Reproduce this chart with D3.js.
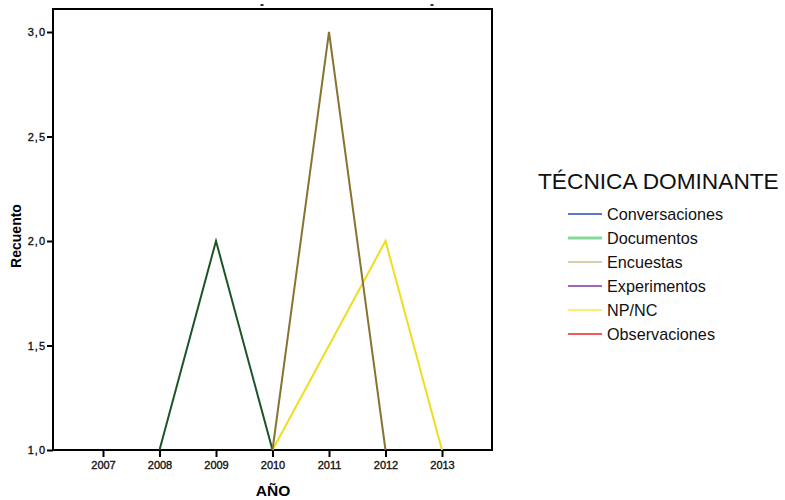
<!DOCTYPE html>
<html><head><meta charset="utf-8">
<script src="https://cdn.jsdelivr.net/npm/d3@7"></script>
<style>body{margin:0;background:#fff}svg{display:block}text{font-family:"Liberation Sans",Arial,sans-serif}</style>
</head><body><svg id="c" width="785" height="500"></svg>
<script>
const years = [2007, 2008, 2009, 2010, 2011, 2012, 2013];
const yTicks = [1.0, 1.5, 2.0, 2.5, 3.0];
const legendNames = ["Conversaciones", "Documentos", "Encuestas", "Experimentos", "NP/NC", "Observaciones"];
const legendColors = ["#5b78d0", "#86da98", "#d8d0a8", "#a067b8", "#f6f07a", "#f05a5a"];
const docYears = [2008, 2009, 2010];
const docValues = [1, 2, 1];
const encYears = [2010, 2011, 2012];
const encValues = [1, 3, 1];
const npYears = [2010, 2012, 2013];
const npValues = [1, 2, 1];
const lineColors = {Documentos: "#1d5427", Encuestas: "#86742f", "NP/NC": "#f0de1e"};

const svg = d3.select("#c");
const L = 53, R = 492, T = 9, B = 450;
const x = d3.scaleLinear().domain([2006.115, 2013.885]).range([L, R]);
const y = d3.scaleLinear().domain([1, 3]).range([B, 32]);

// frame
svg.append("rect").attr("x", L).attr("y", T).attr("width", R - L).attr("height", B - T)
  .attr("fill", "none").attr("stroke", "#000").attr("stroke-width", 2);

// remnants of clipped title
[262, 432].forEach(px => svg.append("rect").attr("x", px - 1.5).attr("y", 4).attr("width", 3).attr("height", 2).attr("fill", "#333"));

const yAxis = svg.append("g").attr("transform", `translate(${L},0)`)
  .call(d3.axisLeft(y).tickValues(yTicks).tickSize(6).tickPadding(1).tickFormat(d => d3.format(".1f")(d).replace(".", ",")));
yAxis.select(".domain").remove();
yAxis.selectAll("line").attr("stroke", "#000").attr("stroke-width", 2);
yAxis.selectAll("text").attr("font-size", 11).attr("fill", "#111").attr("stroke", "#111").attr("stroke-width", 0.35).attr("letter-spacing", 1);

const xAxis = svg.append("g").attr("transform", `translate(0,${B})`)
  .call(d3.axisBottom(x).tickValues(years).tickSize(7).tickPadding(4).tickFormat(d3.format("d")));
xAxis.select(".domain").remove();
xAxis.selectAll("line").attr("stroke", "#000").attr("stroke-width", 2);
xAxis.selectAll("text").attr("font-size", 11).attr("fill", "#111").attr("stroke", "#111").attr("stroke-width", 0.35);

svg.append("text").attr("transform", "translate(21,236) rotate(-90)").attr("text-anchor", "middle")
  .attr("font-size", 14).attr("font-weight", "bold").text("Recuento");
svg.append("text").attr("x", 273).attr("y", 496).attr("text-anchor", "middle")
  .attr("font-size", 15.5).attr("font-weight", "bold").text("AÑO");

const line = d3.line().x(d => x(d[0])).y(d => y(d[1]));
const series = [
  ["Documentos", d3.zip(docYears, docValues)],
  ["NP/NC", d3.zip(npYears, npValues)],
  ["Encuestas", d3.zip(encYears, encValues)]
];
series.forEach(([name, pts]) => {
  svg.append("path").attr("d", line(pts)).attr("fill", "none")
    .attr("stroke", lineColors[name]).attr("stroke-width", 2).attr("stroke-linejoin", "miter");
});

// legend
svg.append("text").attr("x", 538).attr("y", 189).attr("font-size", 22.7).attr("fill", "#111").text("TÉCNICA DOMINANTE");
const lg = svg.append("g");
legendNames.forEach((n, i) => {
  const yy = 214 + i * 24;
  lg.append("line").attr("x1", 568).attr("x2", 602).attr("y1", yy).attr("y2", yy)
    .attr("stroke", legendColors[i]).attr("stroke-width", n === "Documentos" ? 3 : 2);
  lg.append("text").attr("x", 607).attr("y", yy + 6).attr("font-size", 16.2).attr("fill", "#111").text(n);
});
</script></body></html>
